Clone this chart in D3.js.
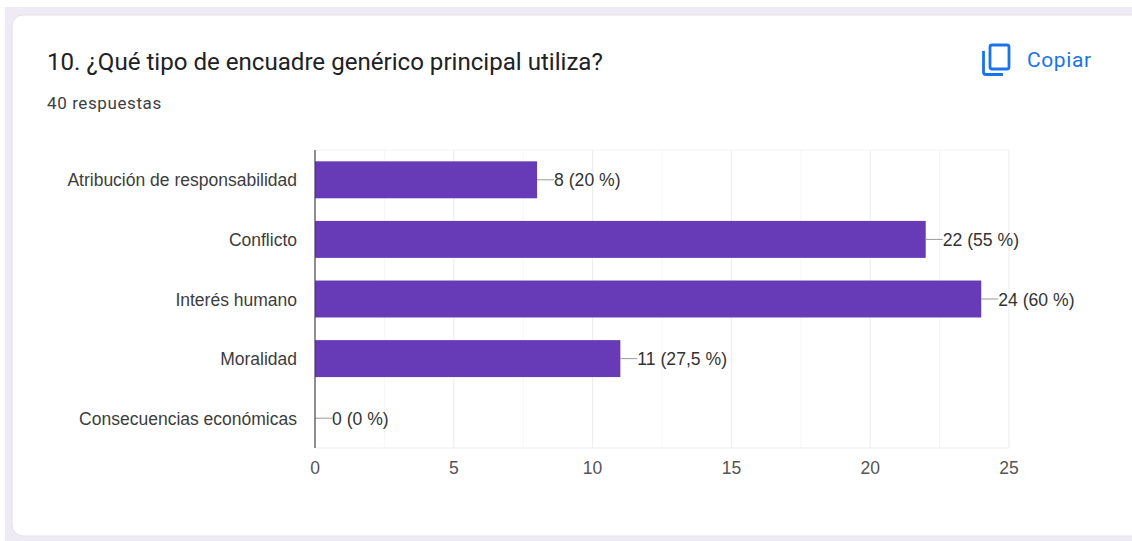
<!DOCTYPE html>
<html>
<head>
<meta charset="utf-8">
<script src="https://cdn.jsdelivr.net/npm/d3@7"></script>
<style>
html, body { margin: 0; padding: 0; background: #fff; overflow: hidden; }
text { font-family: "Liberation Sans", Arial, sans-serif; }
</style>
</head>
<body>
<div id="chart"></div>
<script>
let categories = ["Atribución de responsabilidad", "Conflicto", "Interés humano", "Moralidad", "Consecuencias económicas"];
let counts = [8, 22, 24, 11, 0];
let pctLabels = ["20 %", "55 %", "60 %", "27,5 %", "0 %"];
let xTicks = [0, 5, 10, 15, 20, 25];
let xMinor = [2.5, 7.5, 12.5, 17.5, 22.5];

let width = 1132,
height = 541;

let svg = d3.select("#chart")
.append("svg")
.attr("width", width)
.attr("height", height)
.style("display", "block");

// page background and card
svg.append("rect")
.attr("x", 5).attr("y", 7)
.attr("width", width - 5).attr("height", height - 7)
.attr("fill", "#eeebf7");

svg.append("rect")
.attr("x", 12).attr("y", 15)
.attr("width", width + 20).attr("height", 521)
.attr("rx", 11)
.attr("fill", "#fff")
.attr("stroke", "#e2e1e8")
.attr("stroke-width", 1);

svg.append("text")
.attr("x", 47).attr("y", 70)
.attr("font-size", 24.1)
.style("font-family", "Roboto, sans-serif")
.attr("fill", "#202124")
.text("10. ¿Qué tipo de encuadre genérico principal utiliza?");

svg.append("text")
.attr("x", 47).attr("y", 109)
.attr("font-size", 17)
.style("font-family", "Roboto, sans-serif")
.attr("letter-spacing", 0.6)
.attr("fill", "#3c4043")
.text("40 respuestas");

// copy icon
let icon = svg.append("g")
.attr("fill", "none")
.attr("stroke", "#1a73e8")
.attr("stroke-width", 2.8);
icon.append("rect")
.attr("x", 990).attr("y", 45)
.attr("width", 19).attr("height", 24)
.attr("rx", 2);
icon.append("path")
.attr("d", "M983.5 51 V72 Q983.5 74.5 986 74.5 H1003");

svg.append("text")
.attr("x", 1027).attr("y", 67)
.attr("font-size", 21)
.style("font-family", "Roboto, sans-serif")
.attr("letter-spacing", 0.6)
.attr("fill", "#1a73e8")
.text("Copiar");

// chart
let x = d3.scaleLinear()
.domain([0, 25])
.range([315, 1009]);

let y = d3.scaleBand()
.domain(categories)
.range([150, 448])
.paddingInner(0.38)
.paddingOuter(0.19);

let grid = svg.append("g");

grid.selectAll(".minor")
.data(xMinor)
.enter().append("line")
.attr("x1", d => x(d)).attr("x2", d => x(d))
.attr("y1", 150).attr("y2", 448)
.attr("stroke", "#f6f6f6")
.attr("stroke-width", 1);

grid.selectAll(".major")
.data(xTicks.slice(1))
.enter().append("line")
.attr("x1", d => x(d)).attr("x2", d => x(d))
.attr("y1", 150).attr("y2", 448)
.attr("stroke", "#eeeeee")
.attr("stroke-width", 1.2);

grid.append("line")
.attr("x1", 315).attr("x2", 1009)
.attr("y1", 150).attr("y2", 150)
.attr("stroke", "#f3f3f3");

grid.append("line")
.attr("x1", 315).attr("x2", 1009)
.attr("y1", 448).attr("y2", 448)
.attr("stroke", "#eeeeee")
.attr("stroke-width", 1.2);

let rows = categories.map((c, i) => ({ name: c, value: counts[i], pct: pctLabels[i] }));

svg.selectAll(".bar")
.data(rows)
.enter().append("rect")
.attr("class", "bar")
.attr("x", x(0))
.attr("y", d => y(d.name))
.attr("width", d => x(d.value) - x(0))
.attr("height", y.bandwidth())
.attr("fill", "#673ab7");

// leader lines and value labels
svg.selectAll(".leader")
.data(rows)
.enter().append("line")
.attr("x1", d => x(d.value))
.attr("x2", d => x(d.value) + 17)
.attr("y1", d => y(d.name) + y.bandwidth() / 2)
.attr("y2", d => y(d.name) + y.bandwidth() / 2)
.attr("stroke", "#999999")
.attr("stroke-width", 1);

svg.selectAll(".value")
.data(rows)
.enter().append("text")
.attr("x", d => x(d.value) + 17)
.attr("y", d => y(d.name) + y.bandwidth() / 2 + 6.6)
.attr("font-size", 17.6)
.attr("fill", "#333")
.text(d => d.value + " (" + d.pct + ")");

svg.selectAll(".cat")
.data(rows)
.enter().append("text")
.attr("x", 297)
.attr("y", d => y(d.name) + y.bandwidth() / 2 + 6.6)
.attr("text-anchor", "end")
.attr("font-size", 17.5)
.attr("fill", "#3d3d3d")
.text(d => d.name);

// axis line over the bars
svg.append("line")
.attr("x1", 315).attr("x2", 315)
.attr("y1", 150).attr("y2", 448)
.attr("stroke", "#444")
.attr("stroke-width", 1.2);

svg.selectAll(".tick-label")
.data(xTicks)
.enter().append("text")
.attr("x", d => x(d))
.attr("y", 474)
.attr("text-anchor", "middle")
.attr("font-size", 17.5)
.attr("fill", "#555")
.text(d => d);
</script>
</body>
</html>
